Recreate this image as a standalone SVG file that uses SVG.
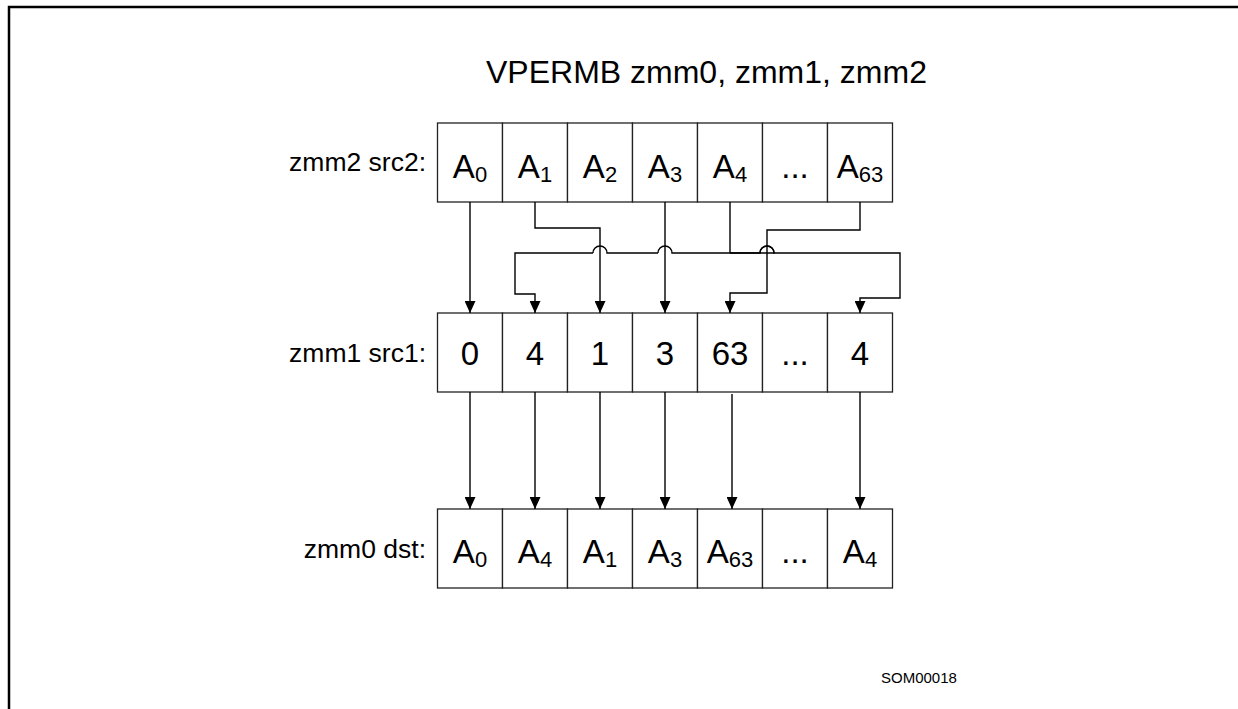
<svg xmlns="http://www.w3.org/2000/svg" width="1238" height="709" viewBox="0 0 1238 709">
<defs>
<style>
.cell{fill:#fff;stroke:#222;stroke-width:1.3}
.frame{fill:none;stroke:#000;stroke-width:2.5}
.t{font-family:"Liberation Sans",Arial,sans-serif;fill:#000}
.big{font-size:33px}
.sub{font-size:22px}
.lbl{font-size:26.5px}
.ttl{font-size:32px}
.som{font-size:15px}
.conn{fill:none;stroke:#000;stroke-width:1.4}
</style>
<marker id="ah" viewBox="0 0 12 11" refX="12" refY="5.5" markerWidth="12" markerHeight="11" markerUnits="userSpaceOnUse" orient="auto">
<path d="M0,0 L12,5.5 L0,11 z" fill="#000"/>
</marker>
</defs>
<rect width="1238" height="709" fill="#fff"/>
<path class="frame" d="M9,709 V7 H1238"/>

<text class="t ttl" x="486" y="83">VPERMB zmm0, zmm1, zmm2</text>

<g id="labels">
<text class="t lbl" x="426" y="171" text-anchor="end">zmm2 src2:</text>
<text class="t lbl" x="426" y="362" text-anchor="end">zmm1 src1:</text>
<text class="t lbl" x="426" y="558" text-anchor="end">zmm0 dst:</text>
</g>

<g id="src2">
<rect class="cell" x="437.5" y="123" width="65" height="79"/>
<rect class="cell" x="502.5" y="123" width="65" height="79"/>
<rect class="cell" x="567.5" y="123" width="65" height="79"/>
<rect class="cell" x="632.5" y="123" width="65" height="79"/>
<rect class="cell" x="697.5" y="123" width="65" height="79"/>
<rect class="cell" x="762.5" y="123" width="65" height="79"/>
<rect class="cell" x="827.5" y="123" width="65" height="79"/>
<text class="t big" x="470" y="178" text-anchor="middle">A<tspan class="sub" dy="4">0</tspan></text>
<text class="t big" x="535" y="178" text-anchor="middle">A<tspan class="sub" dy="4">1</tspan></text>
<text class="t big" x="600" y="178" text-anchor="middle">A<tspan class="sub" dy="4">2</tspan></text>
<text class="t big" x="665" y="178" text-anchor="middle">A<tspan class="sub" dy="4">3</tspan></text>
<text class="t big" x="730" y="178" text-anchor="middle">A<tspan class="sub" dy="4">4</tspan></text>
<text class="t big" x="795" y="178" text-anchor="middle">...</text>
<text class="t big" x="860" y="178" text-anchor="middle">A<tspan class="sub" dy="4">63</tspan></text>
</g>

<g id="src1">
<rect class="cell" x="437.5" y="313" width="65" height="79"/>
<rect class="cell" x="502.5" y="313" width="65" height="79"/>
<rect class="cell" x="567.5" y="313" width="65" height="79"/>
<rect class="cell" x="632.5" y="313" width="65" height="79"/>
<rect class="cell" x="697.5" y="313" width="65" height="79"/>
<rect class="cell" x="762.5" y="313" width="65" height="79"/>
<rect class="cell" x="827.5" y="313" width="65" height="79"/>
<text class="t big" x="470" y="365" text-anchor="middle">0</text>
<text class="t big" x="535" y="365" text-anchor="middle">4</text>
<text class="t big" x="600" y="365" text-anchor="middle">1</text>
<text class="t big" x="665" y="365" text-anchor="middle">3</text>
<text class="t big" x="730" y="365" text-anchor="middle">63</text>
<text class="t big" x="795" y="365" text-anchor="middle">...</text>
<text class="t big" x="860" y="365" text-anchor="middle">4</text>
</g>

<g id="dst">
<rect class="cell" x="437.5" y="509" width="65" height="79"/>
<rect class="cell" x="502.5" y="509" width="65" height="79"/>
<rect class="cell" x="567.5" y="509" width="65" height="79"/>
<rect class="cell" x="632.5" y="509" width="65" height="79"/>
<rect class="cell" x="697.5" y="509" width="65" height="79"/>
<rect class="cell" x="762.5" y="509" width="65" height="79"/>
<rect class="cell" x="827.5" y="509" width="65" height="79"/>
<text class="t big" x="470" y="563" text-anchor="middle">A<tspan class="sub" dy="4">0</tspan></text>
<text class="t big" x="535" y="563" text-anchor="middle">A<tspan class="sub" dy="4">4</tspan></text>
<text class="t big" x="600" y="563" text-anchor="middle">A<tspan class="sub" dy="4">1</tspan></text>
<text class="t big" x="665" y="563" text-anchor="middle">A<tspan class="sub" dy="4">3</tspan></text>
<text class="t big" x="730" y="563" text-anchor="middle">A<tspan class="sub" dy="4">63</tspan></text>
<text class="t big" x="795" y="563" text-anchor="middle">...</text>
<text class="t big" x="860" y="563" text-anchor="middle">A<tspan class="sub" dy="4">4</tspan></text>
</g>

<text class="t som" x="881" y="683">SOM00018</text>

<g id="connectors">
<path class="conn" d="M470,202 V313" marker-end="url(#ah)"/>
<path class="conn" d="M535,202 V228 H600 V313" marker-end="url(#ah)"/>
<path class="conn" d="M665,202 V313" marker-end="url(#ah)"/>
<path class="conn" d="M730,202 V253"/>
<path class="conn" d="M730,253 H774 A7,7 0 0 0 760,253 M760,253 H672 A7,7 0 0 0 658,253 M658,253 H607 A7,7 0 0 0 593,253 M593,253 H515 V294 H535 V313" marker-end="url(#ah)"/>
<path class="conn" d="M730,253 H760 A7,7 0 0 1 774,253 H900 V298 H860 V313" marker-end="url(#ah)"/>
<path class="conn" d="M860,202 V230 H767 V293 H730 V313" marker-end="url(#ah)"/>
<path class="conn" d="M470,392 V509" marker-end="url(#ah)"/>
<path class="conn" d="M535,392 V509" marker-end="url(#ah)"/>
<path class="conn" d="M600,392 V509" marker-end="url(#ah)"/>
<path class="conn" d="M665,392 V509" marker-end="url(#ah)"/>
<path class="conn" d="M732,394 V509" marker-end="url(#ah)"/>
<path class="conn" d="M860,392 V509" marker-end="url(#ah)"/>
</g>
</svg>
